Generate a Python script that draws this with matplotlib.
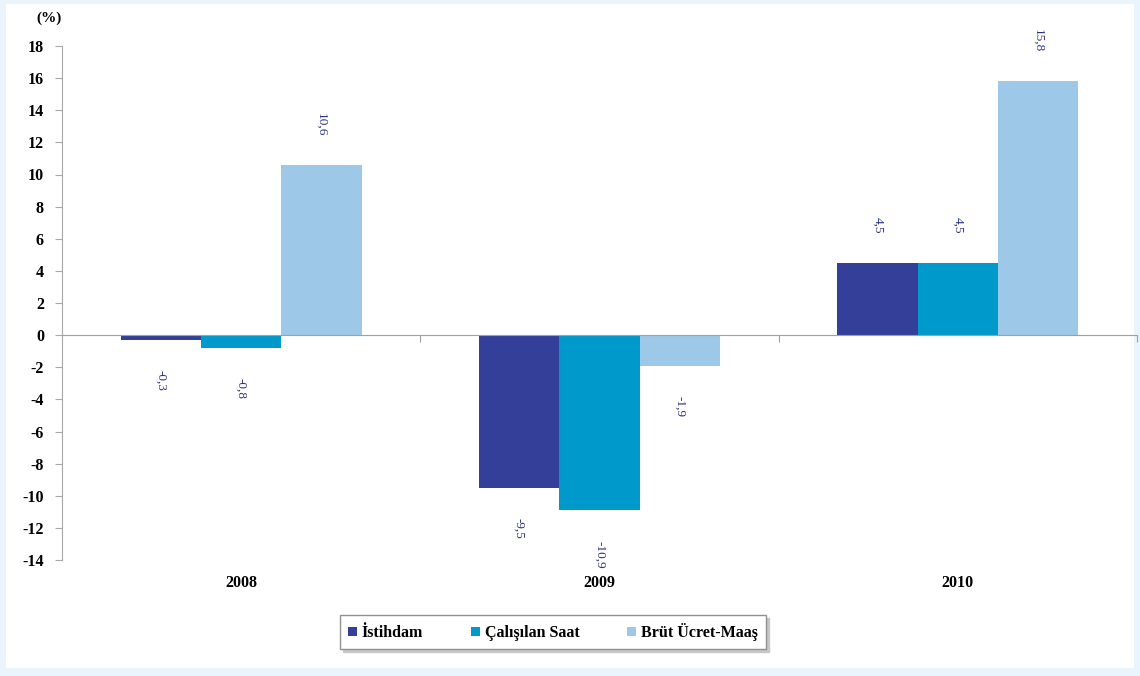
import numpy as np
import matplotlib.pyplot as plt
import matplotlib.transforms as mtransforms
from matplotlib.patches import Rectangle

years = ['2008', '2009', '2010']
istihdam = [-0.3, -9.5, 4.5]
calisilan = [-0.8, -10.9, 4.5]
brut = [10.6, -1.9, 15.8]
series_names = ['İstihdam', 'Çalışılan Saat', 'Brüt Ücret-Maaş']
colors = ['#333f99', '#0099cc', '#9dc8e8']

plt.rcParams['font.family'] = ['Liberation Serif', 'DejaVu Serif']
plt.rcParams['axes.unicode_minus'] = False

fig = plt.figure(figsize=(11.4, 6.76), dpi=100)
fig.patch.set_facecolor('#eaf4fc')
# white panel inside the light blue frame
panel = Rectangle((6 / 1140, 8 / 676), 1 - 12 / 1140, 1 - 12 / 676,
                  transform=fig.transFigure, facecolor='white',
                  edgecolor='none', zorder=-10)
fig.patches.append(panel)

ax = fig.add_axes([62 / 1140, 1 - 560 / 676, (1137 - 62) / 1140, (560 - 46) / 676])
ax.set_zorder(5)
ax.set_facecolor('none')

x = np.arange(len(years))
w = 0.224
data = [istihdam, calisilan, brut]
for i, (vals, name, c) in enumerate(zip(data, series_names, colors)):
    pos = x + (i - 1) * w
    ax.bar(pos, vals, width=w, color=c, label=name, zorder=2)
    for xp, v in zip(pos, vals):
        lbl = f'{v:.1f}'.replace('.', ',')
        if v >= 0:
            ax.text(xp, v + 1.8, lbl, rotation=270, ha='center', va='bottom',
                    fontsize=9.5, color='#2b3580')
        else:
            ax.text(xp, v - 1.9, lbl, rotation=270, ha='center', va='top',
                    fontsize=9.5, color='#2b3580')

ax.set_xlim(-0.5, 2.5)
ax.set_ylim(-14, 18)
ax.set_yticks(np.arange(-14, 19, 2))
ax.tick_params(axis='y', labelsize=11.5, length=5, color='#a8a8a8', pad=8)
for t in ax.get_yticklabels():
    t.set_fontweight('bold')

for s in ['top', 'right']:
    ax.spines[s].set_visible(False)
ax.spines['left'].set_color('#a8a8a8')
ax.spines['bottom'].set_position(('data', 0))
ax.spines['bottom'].set_color('#a0a0a0')
ax.set_xticks([0.5, 1.5, 2.5])
ax.set_xticklabels([])
ax.tick_params(axis='x', length=5, color='#a0a0a0', direction='out')

trans = mtransforms.blended_transform_factory(ax.transData, ax.transAxes)
for xi, yr in zip(x, years):
    ax.text(xi, -0.045, yr, transform=trans, ha='center', va='center',
            fontsize=11.5, fontweight='bold')

fig.text(49 / 1140, 1 - 18 / 676, '(%)', ha='center', va='center',
         fontsize=11, fontweight='bold')

leg = ax.legend(loc='center', bbox_to_anchor=(553 / 1140, 1 - 632 / 676),
                bbox_transform=fig.transFigure, ncol=3, frameon=True,
                fancybox=False, shadow={'color': '#c8c8c8', 'alpha': 1, 'ox': 2, 'oy': -2},
                prop={'size': 11.5, 'weight': 'bold'},
                handlelength=0.55, handleheight=0.55, handletextpad=0.3,
                columnspacing=3.0, borderpad=0.5, borderaxespad=0)
leg.get_frame().set_edgecolor('#909090')

fig.savefig('out.png', dpi=100, facecolor=fig.get_facecolor())
